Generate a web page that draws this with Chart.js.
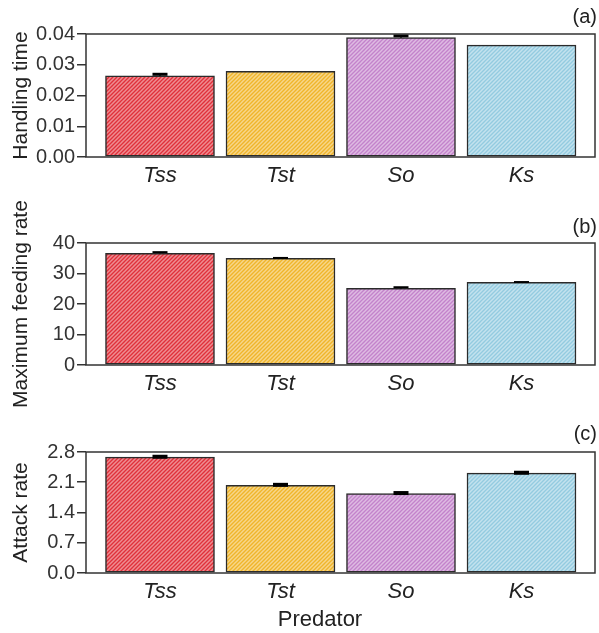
<!DOCTYPE html>
<html lang="en">
<head>
<meta charset="UTF-8">
<title>Predator functional response</title>
<script src="https://cdn.jsdelivr.net/npm/chart.js"></script>
<style>
  body { margin: 0; background: #fff; }
  canvas { display: block; }
</style>
</head>
<body>
<canvas id="chartA" width="599" height="200"></canvas>
<canvas id="chartB" width="599" height="210"></canvas>
<canvas id="chartC" width="599" height="223"></canvas>
<script>
const predators = ['Tss', 'Tst', 'So', 'Ks'];
const barColors = ['#e0303a', '#f0b52a', '#c383cb', '#93cbe0'];

const handlingTime = [0.0264, 0.0279, 0.0388, 0.0364];
const handlingTimeSE = [0.0005, 0, 0.0006, 0];
const handlingTimeTicks = [0, 0.01, 0.02, 0.03, 0.04];

const maxFeeding = [36.6, 35.0, 25.1, 27.1];
const maxFeedingSE = [0.4, 0.1, 0.4, 0.1];
const maxFeedingTicks = [0, 10, 20, 30, 40];

const attackRate = [2.68, 2.03, 1.84, 2.31];
const attackRateSE = [0.01, 0.01, 0.01, 0.01];
const attackRateTicks = [0, 0.7, 1.4, 2.1, 2.8];

const FONT = '"Liberation Sans", Arial, sans-serif';

// diagonal light hatch over the fill colour
function hatch(ctx, color) {
  const c = document.createElement('canvas');
  c.width = 4; c.height = 4;
  const g = c.getContext('2d');
  g.fillStyle = color;
  g.fillRect(0, 0, 4, 4);
  g.strokeStyle = 'rgba(255,255,255,0.45)';
  g.lineWidth = 1.5;
  g.beginPath();
  g.moveTo(-1, 5); g.lineTo(5, -1);
  g.moveTo(-1, 1); g.lineTo(1, -1);
  g.moveTo(3, 5); g.lineTo(5, 3);
  g.stroke();
  return ctx.createPattern(c, 'repeat');
}

// error bars, panel box, panel letter, x title
const panelDeco = {
  id: 'panelDeco',
  afterDatasetsDraw(chart, args, opts) {
    const ctx = chart.ctx, a = chart.chartArea;
    const xs = chart.scales.x, ys = chart.scales.y;
    ctx.save();
    ctx.strokeStyle = '#000';
    chart.data.datasets[0].data.forEach((d, i) => {
      const se = opts.se[i];
      if (!se) return;
      const px = xs.getPixelForValue(d.x);
      const top = ys.getPixelForValue(d.y + se);
      ctx.lineWidth = 1.5;
      ctx.beginPath();
      ctx.moveTo(px, ys.getPixelForValue(d.y));
      ctx.lineTo(px, top);
      ctx.stroke();
      ctx.lineWidth = opts.capWidth;
      ctx.beginPath();
      ctx.moveTo(px - 7.5, top);
      ctx.lineTo(px + 7.5, top);
      ctx.stroke();
    });
    ctx.strokeStyle = '#333';
    ctx.lineWidth = 1.5;
    ctx.strokeRect(a.left, a.top, a.right - a.left, a.bottom - a.top);

    ctx.fillStyle = '#222';
    ctx.textBaseline = 'middle';
    ctx.textAlign = 'right';
    ctx.font = '20px ' + FONT;
    ctx.fillText(opts.label, 597, opts.labelY);
    if (opts.xTitle) {
      ctx.textAlign = 'center';
      ctx.font = '22px ' + FONT;
      ctx.fillText(opts.xTitle, 320, opts.xTitleY);
    }
    ctx.restore();
  }
};

function makePanel(id, values, se, ticks, digits, yTitle, cfg) {
  const canvas = document.getElementById(id);
  const ctx = canvas.getContext('2d');
  return new Chart(ctx, {
    type: 'bar',
    data: {
      datasets: [{
        data: values.map((v, i) => ({ x: i, y: v })),
        backgroundColor: barColors.map(c => hatch(ctx, c)),
        borderColor: '#2b2b2b',
        borderWidth: 1.5,
        borderSkipped: false,
        barThickness: 109
      }]
    },
    options: {
      responsive: false,
      animation: false,
      layout: { padding: { top: cfg.top, right: 4, left: 0, bottom: 0 } },
      plugins: {
        legend: { display: false },
        tooltip: { enabled: false },
        panelDeco: {
          se: se, capWidth: cfg.cap, label: cfg.label, labelY: cfg.labelY,
          xTitle: cfg.xTitle, xTitleY: cfg.xTitleY
        }
      },
      scales: {
        x: {
          type: 'linear',
          offset: false,
          min: -0.614,
          max: 3.61,
          grid: { display: false, drawTicks: false },
          border: { display: false },
          afterBuildTicks: s => { s.ticks = predators.map((p, i) => ({ value: i })); },
          afterFit: s => { s.height = cfg.xHeight; },
          ticks: {
            autoSkip: false,
            maxRotation: 0,
            padding: 6,
            color: '#222',
            font: { family: FONT, size: 22, style: 'italic' },
            callback: v => predators[v]
          }
        },
        y: {
          min: ticks[0],
          max: ticks[ticks.length - 1],
          grid: { drawOnChartArea: false, drawTicks: true, tickLength: 9, color: '#333', lineWidth: 1.5 },
          border: { display: false },
          afterBuildTicks: s => { s.ticks = ticks.map(v => ({ value: v })); },
          afterFit: s => { s.width = 86; },
          ticks: {
            padding: 2,
            color: '#333',
            font: { family: FONT, size: 20 },
            callback: v => Number(v).toFixed(digits)
          },
          title: {
            display: true,
            text: yTitle,
            color: '#222',
            padding: { top: 9, bottom: 0 },
            font: { family: FONT, size: 21 }
          }
        }
      }
    },
    plugins: [panelDeco]
  });
}

makePanel('chartA', handlingTime, handlingTimeSE, handlingTimeTicks, 2, 'Handling time',
  { top: 34, xHeight: 43, cap: 3, label: '(a)', labelY: 17.5 });
makePanel('chartB', maxFeeding, maxFeedingSE, maxFeedingTicks, 0, 'Maximum feeding rate',
  { top: 43, xHeight: 45, cap: 2, label: '(b)', labelY: 27 });
makePanel('chartC', attackRate, attackRateSE, attackRateTicks, 1, 'Attack rate',
  { top: 42, xHeight: 60, cap: 4, label: '(c)', labelY: 24, xTitle: 'Predator', xTitleY: 210 });
</script>
</body>
</html>
